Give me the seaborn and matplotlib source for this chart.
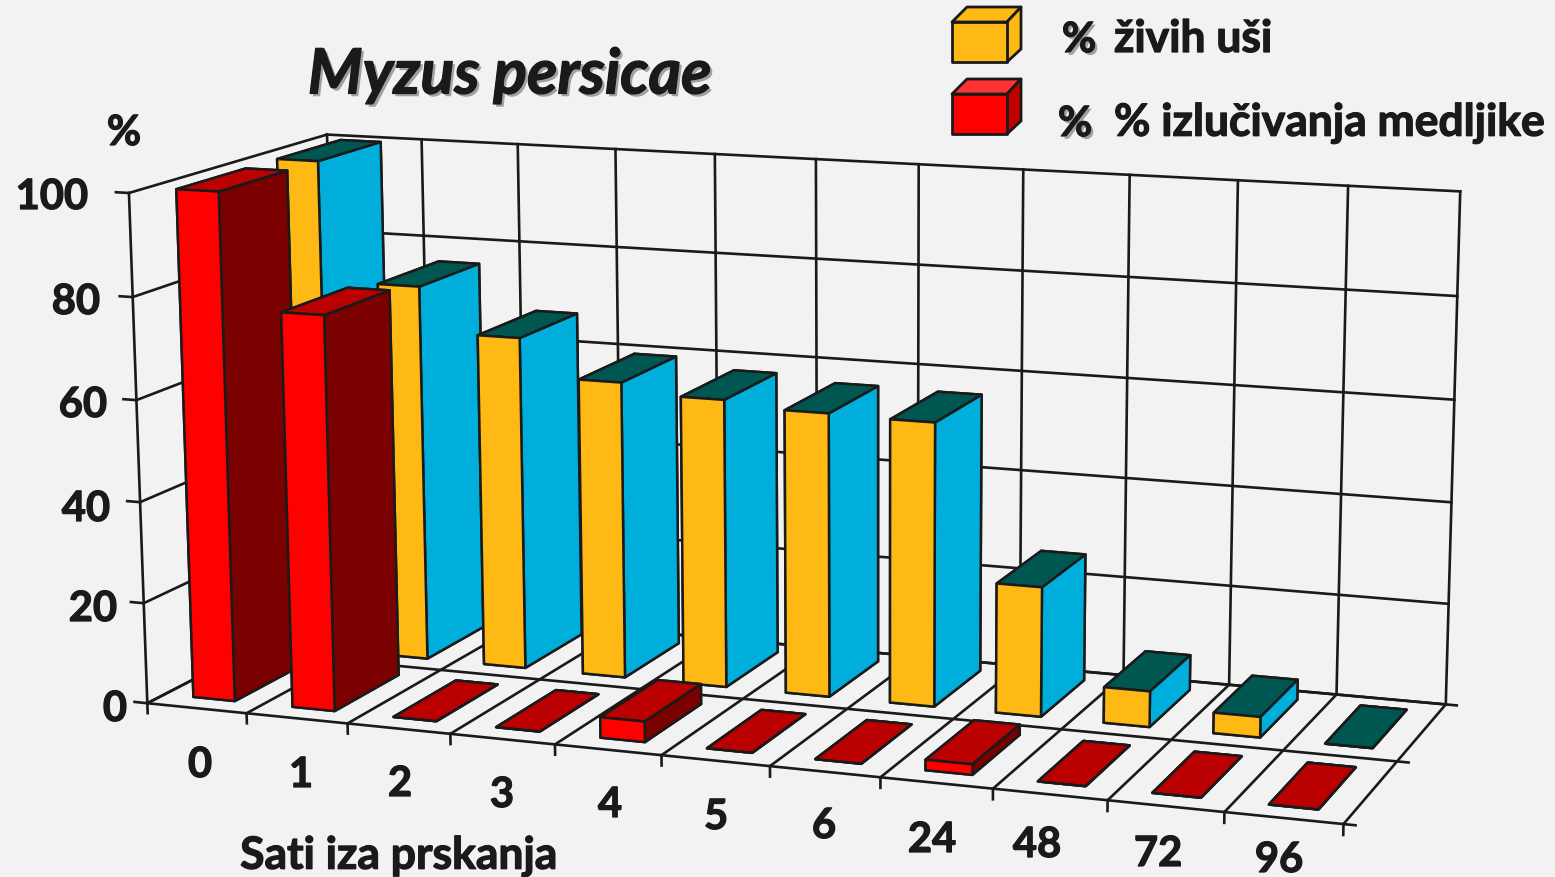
import numpy as np
import matplotlib
matplotlib.use("Agg")
import matplotlib.pyplot as plt
import matplotlib.patheffects as pe
from matplotlib.patches import Polygon
import seaborn as sns

hours = ["0", "1", "2", "3", "4", "5", "6", "24", "48", "72", "96"]
live_aphids = [100, 76, 67, 59.5, 57.5, 56.3, 56, 25.5, 7, 4, 0]
honeydew = [100, 77.5, 0, 0, 4, 0, 0, 2, 0, 0, 0]
z_ticks = [0, 20, 40, 60, 80, 100]

sns.set_theme(style="white")
plt.rcParams["font.family"] = ["Lato", "DejaVu Sans"]
BG = "#F2F2F2"
W, H = 1555, 878
fig = plt.figure(figsize=(15.55, 8.78), dpi=100, facecolor=BG)

# camera found by fitting the wall corners of the picture
a, tx, ty = 7425.8, 793.8, 452.2
ax = fig.add_axes([0, 0, 1, 1], projection="3d", computed_zorder=False)
ax.view_init(elev=12.1113, azim=-69.4606, roll=0.2295)
ax.set_proj_type("persp", focal_length=float(np.exp(-0.5245)))
ax.set_box_aspect((1, float(np.exp(-1.0393)), float(np.exp(-0.8626))))
ax.set_xlim(0, 11)
ax.set_ylim(0, 2)
ax.set_zlim(0, 100)
vx0, vx1 = ax.viewLim.intervalx
vy0, vy1 = ax.viewLim.intervaly
ax.set_position([(tx + a * vx0) / W, (H - (ty - a * vy0)) / H, a * (vx1 - vx0) / W, a * (vy1 - vy0) / H])
ax.set_axis_off()
ax.patch.set_alpha(0)

# walls and floor
line = dict(color="k", lw=1.9, solid_capstyle="projecting", zorder=1)
for i in range(12):
    ax.plot([i, i], [0, 0], [0, -2], **line)
    ax.plot([i, i], [0, 2], [0, 0], **line)
    ax.plot([i, i], [2, 2], [0, 100], **line)
for z in z_ticks:
    ax.plot([-0.13, 0], [0, 0], [z, z], **line)
    ax.plot([0, 11], [2, 2], [z, z], **line)
    ax.plot([0, 0], [0, 2], [z, z], **line)
ax.plot([0, 0], [0, 0], [0, 100], **line)
for d in [0, 1, 2]:
    ax.plot([0, 11.1], [d, d], [0, 0], **line)

# back row first, left to right, so nearer bars cover it
order = 5
rows = [(1, live_aphids, ("#005650", "#FFB914", "#00AEDB")),
        (0, honeydew, ("#BA0000", "#FF0000", "#7B0000"))]
for row, vals, cols in rows:
    for i, h in enumerate(vals):
        top, front, side = cols
        ax.bar3d(i + 0.29, row + 0.17, 0, 0.42, 0.68, h,
                 color=[top, top, front, front, side, side],
                 edgecolor="k", linewidth=1.8, shade=False, zorder=order)
        order += 1

# flat layer in pixels for the texts and the legend
over = fig.add_axes([0, 0, 1, 1])
over.set_xlim(0, W)
over.set_ylim(H, 0)
over.axis("off")
over.patch.set_alpha(0)

heavy = [pe.withStroke(linewidth=0.9, foreground="k")]
shadow = [pe.withSimplePatchShadow(offset=(2, -2), shadow_rgbFace="#A0A0A0", alpha=1),
          pe.withStroke(linewidth=0.9, foreground="k")]
big = dict(color="k", fontweight="bold", va="center")

z_label_pos = [(127, 710), (117, 610), (110, 510), (107, 406), (100, 303), (88, 198)]
for z, (x, y) in zip(z_ticks, z_label_pos):
    over.text(x, y, str(z), ha="right", fontsize=30, path_effects=heavy, **big)
x_label_pos = [(200, 766), (301, 776), (400, 785), (502, 796), (610, 806), (716, 818),
               (824, 827), (932, 841), (1037, 846), (1158, 855), (1279, 861)]
for lab, (x, y) in zip(hours, x_label_pos):
    over.text(x, y, lab, ha="center", fontsize=30, path_effects=heavy, **big)
over.text(399, 857, "Sati iza prskanja", ha="center", fontsize=32, path_effects=heavy, **big)
over.text(124, 134, "%", ha="center", fontsize=30, path_effects=heavy, **big)
over.text(510, 76, "Myzus persicae", ha="center", fontsize=45, style="italic",
          path_effects=shadow, **big)
over.text(1062, 41, "%", ha="left", fontsize=30, path_effects=shadow, **big)
over.text(1114, 40, "živih uši", ha="left", fontsize=32, path_effects=heavy, **big)
over.text(1058, 125, "%", ha="left", fontsize=30, path_effects=shadow, **big)
over.text(1114, 124, "% izlučivanja medljike", ha="left", fontsize=32, path_effects=heavy, **big)

def cube(y, front, top, side):
    edge = dict(edgecolor="k", linewidth=2, joinstyle="round")
    over.add_patch(Polygon([(952, y + 15), (967, y), (1021, y), (1007, y + 15)], facecolor=top, **edge))
    over.add_patch(Polygon([(1007, y + 15), (1021, y), (1021, y + 42), (1007, y + 55)], facecolor=side, **edge))
    over.add_patch(Polygon([(952, y + 15), (1007, y + 15), (1007, y + 55), (952, y + 55)], facecolor=front, **edge))

cube(8, "#FFB914", "#FFB914", "#FFB914")
cube(80, "#FF0000", "#FF3333", "#C00000")

fig.savefig("out.png", dpi=100, facecolor=BG)
